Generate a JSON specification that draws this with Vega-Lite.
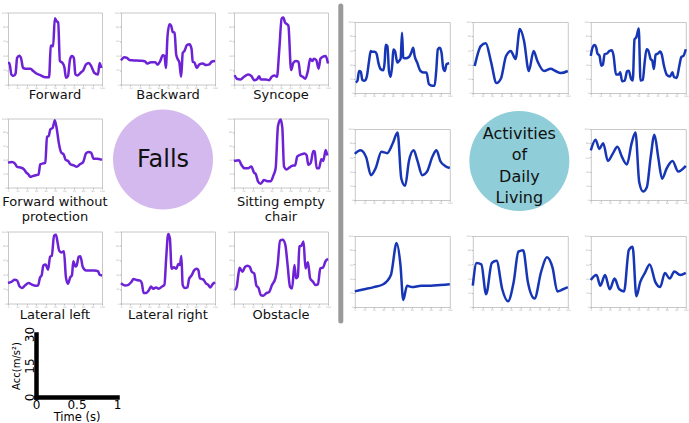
{
"$schema": "https://vega.github.io/schema/vega-lite/v6.json",
"padding": {"left": 0, "top": 0, "right": 0, "bottom": 0},
"datasets": {
"falls": [
{"p":"F1","t":0,"a":30},{"p":"F1","t":1.5,"a":30},{"p":"F1","t":3.6,"a":14},{"p":"F1","t":6,"a":12},{"p":"F1","t":8,"a":15},{"p":"F1","t":9.7,"a":37},{"p":"F1","t":12,"a":40},{"p":"F1","t":14,"a":36},{"p":"F1","t":16,"a":23},{"p":"F1","t":18.6,"a":22},{"p":"F1","t":24,"a":22},{"p":"F1","t":26.5,"a":19},{"p":"F1","t":29.4,"a":16},{"p":"F1","t":34.8,"a":12.6},{"p":"F1","t":40,"a":10},{"p":"F1","t":43.7,"a":10},{"p":"F1","t":45.5,"a":53.5},{"p":"F1","t":46.6,"a":54},{"p":"F1","t":48,"a":53},{"p":"F1","t":49.8,"a":92},{"p":"F1","t":51.6,"a":88},{"p":"F1","t":53.4,"a":86},{"p":"F1","t":55.2,"a":32.5},{"p":"F1","t":58,"a":30},{"p":"F1","t":60,"a":24},{"p":"F1","t":61.6,"a":9.3},{"p":"F1","t":63.8,"a":11.6},{"p":"F1","t":66,"a":35},{"p":"F1","t":68,"a":39.5},{"p":"F1","t":70,"a":37},{"p":"F1","t":71.7,"a":14},{"p":"F1","t":74,"a":12.6},{"p":"F1","t":77.8,"a":17},{"p":"F1","t":80,"a":19.5},{"p":"F1","t":83,"a":28},{"p":"F1","t":86,"a":30},{"p":"F1","t":88.5,"a":25.6},{"p":"F1","t":92,"a":16},{"p":"F1","t":95.7,"a":14},{"p":"F1","t":97.5,"a":30},{"p":"F1","t":99.3,"a":23},
{"p":"F2","t":0,"a":33.5},{"p":"F2","t":3.5,"a":38},{"p":"F2","t":6.4,"a":37},{"p":"F2","t":9,"a":34},{"p":"F2","t":13.4,"a":33.5},{"p":"F2","t":20.5,"a":33},{"p":"F2","t":25.8,"a":32},{"p":"F2","t":27.5,"a":29},{"p":"F2","t":32,"a":31},{"p":"F2","t":36.4,"a":31},{"p":"F2","t":38.9,"a":27.4},{"p":"F2","t":41.7,"a":32.6},{"p":"F2","t":44.5,"a":40.5},{"p":"F2","t":46.3,"a":39.5},{"p":"F2","t":47.7,"a":23},{"p":"F2","t":49.5,"a":67.4},{"p":"F2","t":51.6,"a":83.7},{"p":"F2","t":53.4,"a":81.4},{"p":"F2","t":55,"a":73},{"p":"F2","t":57,"a":72},{"p":"F2","t":58.7,"a":41.9},{"p":"F2","t":60.4,"a":35},{"p":"F2","t":62,"a":31},{"p":"F2","t":64,"a":10.7},{"p":"F2","t":65.7,"a":44},{"p":"F2","t":67.5,"a":46.5},{"p":"F2","t":70,"a":54.4},{"p":"F2","t":72.8,"a":55.8},{"p":"F2","t":75,"a":49.8},{"p":"F2","t":76.3,"a":32},{"p":"F2","t":78.4,"a":30},{"p":"F2","t":80.6,"a":23},{"p":"F2","t":83.4,"a":28},{"p":"F2","t":87,"a":29},{"p":"F2","t":90.5,"a":27},{"p":"F2","t":94,"a":28},{"p":"F2","t":96.5,"a":31.6},{"p":"F2","t":100,"a":32.6},
{"p":"F3","t":0.7,"a":13},{"p":"F3","t":2.9,"a":8},{"p":"F3","t":7,"a":7},{"p":"F3","t":10.7,"a":10.7},{"p":"F3","t":15,"a":14},{"p":"F3","t":18.6,"a":11.6},{"p":"F3","t":21.4,"a":6},{"p":"F3","t":24.3,"a":7},{"p":"F3","t":26.8,"a":11.6},{"p":"F3","t":28.6,"a":7},{"p":"F3","t":34,"a":7},{"p":"F3","t":37.5,"a":6},{"p":"F3","t":40,"a":10.7},{"p":"F3","t":42.9,"a":12.6},{"p":"F3","t":45.7,"a":10.7},{"p":"F3","t":48.2,"a":48.8},{"p":"F3","t":50.7,"a":91.6},{"p":"F3","t":52.5,"a":93},{"p":"F3","t":54.3,"a":86},{"p":"F3","t":56.4,"a":83.7},{"p":"F3","t":57.9,"a":81.4},{"p":"F3","t":60.7,"a":20},{"p":"F3","t":63.2,"a":30.2},{"p":"F3","t":66,"a":32.6},{"p":"F3","t":68.6,"a":31.6},{"p":"F3","t":70.7,"a":12.6},{"p":"F3","t":73.2,"a":10.7},{"p":"F3","t":75.7,"a":8},{"p":"F3","t":78.6,"a":18.6},{"p":"F3","t":81,"a":35.8},{"p":"F3","t":83.2,"a":32.6},{"p":"F3","t":85,"a":35.8},{"p":"F3","t":87.5,"a":34},{"p":"F3","t":90,"a":21.9},{"p":"F3","t":92,"a":35.8},{"p":"F3","t":94.6,"a":38.6},{"p":"F3","t":97.5,"a":39.5},{"p":"F3","t":100,"a":29.3},
{"p":"F4","t":0,"a":36},{"p":"F4","t":4.3,"a":37},{"p":"F4","t":7.2,"a":35},{"p":"F4","t":9.7,"a":30},{"p":"F4","t":13.4,"a":29},{"p":"F4","t":17,"a":26.4},{"p":"F4","t":19.5,"a":21.6},{"p":"F4","t":21.7,"a":19},{"p":"F4","t":23.8,"a":15.4},{"p":"F4","t":26.7,"a":16.8},{"p":"F4","t":29.6,"a":17.8},{"p":"F4","t":32.5,"a":18.8},{"p":"F4","t":34.3,"a":33.6},{"p":"F4","t":37.5,"a":35},{"p":"F4","t":39.7,"a":36},{"p":"F4","t":41.5,"a":73.6},{"p":"F4","t":43.3,"a":74.5},{"p":"F4","t":45,"a":84},{"p":"F4","t":47.6,"a":86.5},{"p":"F4","t":49.8,"a":97.6},{"p":"F4","t":52,"a":84},{"p":"F4","t":54,"a":65},{"p":"F4","t":56.7,"a":50.5},{"p":"F4","t":59.2,"a":48},{"p":"F4","t":61.4,"a":40},{"p":"F4","t":64,"a":38.5},{"p":"F4","t":66.4,"a":33.6},{"p":"F4","t":70,"a":32},{"p":"F4","t":73,"a":30},{"p":"F4","t":76.5,"a":33.6},{"p":"F4","t":80,"a":37},{"p":"F4","t":83,"a":49.5},{"p":"F4","t":85.6,"a":51.4},{"p":"F4","t":88.4,"a":50.5},{"p":"F4","t":91,"a":41.8},{"p":"F4","t":94.6,"a":41.8},{"p":"F4","t":100,"a":40},
{"p":"F6","t":0,"a":38.5},{"p":"F6","t":5.3,"a":39.6},{"p":"F6","t":7.8,"a":33},{"p":"F6","t":11.3,"a":27.8},{"p":"F6","t":14.9,"a":27.8},{"p":"F6","t":18.4,"a":30.5},{"p":"F6","t":21.3,"a":21.4},{"p":"F6","t":23,"a":19.8},{"p":"F6","t":25.5,"a":9},{"p":"F6","t":28.4,"a":5.3},{"p":"F6","t":31.9,"a":10.7},{"p":"F6","t":35.5,"a":9},{"p":"F6","t":39,"a":9},{"p":"F6","t":41.8,"a":17},{"p":"F6","t":44.3,"a":27.8},{"p":"F6","t":46.8,"a":89.3},{"p":"F6","t":49.6,"a":98.4},{"p":"F6","t":51.4,"a":86.6},{"p":"F6","t":53.2,"a":30.5},{"p":"F6","t":56,"a":26.2},{"p":"F6","t":58.9,"a":28.9},{"p":"F6","t":62,"a":31.5},{"p":"F6","t":64.9,"a":32},{"p":"F6","t":67.4,"a":45},{"p":"F6","t":71.6,"a":48},{"p":"F6","t":75.2,"a":49.2},{"p":"F6","t":77.3,"a":46.5},{"p":"F6","t":79,"a":33},{"p":"F6","t":81.6,"a":35.8},{"p":"F6","t":84.4,"a":53},{"p":"F6","t":85.8,"a":51.9},{"p":"F6","t":88,"a":27.8},{"p":"F6","t":90.4,"a":27.8},{"p":"F6","t":92.9,"a":41},{"p":"F6","t":95,"a":38.5},{"p":"F6","t":97.5,"a":54.5},{"p":"F6","t":99.3,"a":46.5},
{"p":"F7","t":0,"a":28.4},{"p":"F7","t":3.6,"a":30},{"p":"F7","t":7.2,"a":33},{"p":"F7","t":9.7,"a":32},{"p":"F7","t":12.2,"a":23.9},{"p":"F7","t":15,"a":21.6},{"p":"F7","t":18,"a":25},{"p":"F7","t":22,"a":28.4},{"p":"F7","t":25.8,"a":26},{"p":"F7","t":29.4,"a":24.8},{"p":"F7","t":32,"a":25},{"p":"F7","t":34,"a":35.8},{"p":"F7","t":35.8,"a":39},{"p":"F7","t":37.6,"a":52.8},{"p":"F7","t":40,"a":54},{"p":"F7","t":42.6,"a":47},{"p":"F7","t":44.8,"a":65},{"p":"F7","t":46.6,"a":66.5},{"p":"F7","t":49,"a":94},{"p":"F7","t":51,"a":95.4},{"p":"F7","t":52.7,"a":85},{"p":"F7","t":54.5,"a":73.4},{"p":"F7","t":57.3,"a":71},{"p":"F7","t":59.5,"a":72.5},{"p":"F7","t":61.6,"a":36.7},{"p":"F7","t":63.8,"a":27.5},{"p":"F7","t":66.3,"a":36.7},{"p":"F7","t":68,"a":39},{"p":"F7","t":69.5,"a":58.7},{"p":"F7","t":71.7,"a":51.4},{"p":"F7","t":73,"a":52.8},{"p":"F7","t":75.3,"a":65},{"p":"F7","t":77,"a":65.6},{"p":"F7","t":79.6,"a":50.5},{"p":"F7","t":83.2,"a":45.9},{"p":"F7","t":86.7,"a":45.9},{"p":"F7","t":92,"a":45.9},{"p":"F7","t":95.7,"a":45},{"p":"F7","t":97.5,"a":40},{"p":"F7","t":100,"a":39},
{"p":"F8","t":0,"a":28},{"p":"F8","t":4.3,"a":25},{"p":"F8","t":7.9,"a":26},{"p":"F8","t":10.8,"a":29.5},{"p":"F8","t":13.3,"a":34},{"p":"F8","t":16.8,"a":32.6},{"p":"F8","t":20.4,"a":31.7},{"p":"F8","t":22.2,"a":28},{"p":"F8","t":24,"a":14.7},{"p":"F8","t":26.9,"a":14.7},{"p":"F8","t":29.4,"a":17.9},{"p":"F8","t":32,"a":23.7},{"p":"F8","t":34,"a":20.5},{"p":"F8","t":37.3,"a":22.3},{"p":"F8","t":40,"a":20.5},{"p":"F8","t":43.7,"a":23.7},{"p":"F8","t":46.2,"a":25.9},{"p":"F8","t":48,"a":61.6},{"p":"F8","t":50.2,"a":96.4},{"p":"F8","t":52,"a":90.6},{"p":"F8","t":53.8,"a":48.2},{"p":"F8","t":56.3,"a":50.4},{"p":"F8","t":58.8,"a":48.2},{"p":"F8","t":61,"a":55},{"p":"F8","t":62.7,"a":53.6},{"p":"F8","t":64.2,"a":66},{"p":"F8","t":65.6,"a":25.9},{"p":"F8","t":68,"a":21.4},{"p":"F8","t":70.6,"a":22.3},{"p":"F8","t":72.4,"a":34},{"p":"F8","t":75.3,"a":39.3},{"p":"F8","t":77.8,"a":46},{"p":"F8","t":80.6,"a":48.2},{"p":"F8","t":82.4,"a":46},{"p":"F8","t":83.9,"a":34.8},{"p":"F8","t":87.5,"a":33.5},{"p":"F8","t":90.3,"a":28},{"p":"F8","t":92.8,"a":25.9},{"p":"F8","t":95,"a":22.3},{"p":"F8","t":97.5,"a":26.8},{"p":"F8","t":100,"a":29.5},
{"p":"F9","t":1,"a":18.6},{"p":"F9","t":2.9,"a":23.3},{"p":"F9","t":4.6,"a":39.5},{"p":"F9","t":6,"a":49.8},{"p":"F9","t":8.9,"a":44},{"p":"F9","t":11.8,"a":51},{"p":"F9","t":14.3,"a":52.6},{"p":"F9","t":16.8,"a":51},{"p":"F9","t":18.9,"a":44},{"p":"F9","t":21.4,"a":41.9},{"p":"F9","t":23.9,"a":24.7},{"p":"F9","t":26,"a":21.9},{"p":"F9","t":28.6,"a":11.6},{"p":"F9","t":31,"a":10.7},{"p":"F9","t":34,"a":14},{"p":"F9","t":37.5,"a":16.3},{"p":"F9","t":40.4,"a":25.6},{"p":"F9","t":44,"a":34.9},{"p":"F9","t":46.4,"a":53.5},{"p":"F9","t":49,"a":87},{"p":"F9","t":51.8,"a":88.4},{"p":"F9","t":54.6,"a":81.4},{"p":"F9","t":57,"a":53.5},{"p":"F9","t":59.6,"a":23.3},{"p":"F9","t":61.8,"a":21},{"p":"F9","t":64.3,"a":53.5},{"p":"F9","t":66,"a":34.9},{"p":"F9","t":67.9,"a":37.2},{"p":"F9","t":69.6,"a":79},{"p":"F9","t":71.8,"a":80.5},{"p":"F9","t":74,"a":86},{"p":"F9","t":76,"a":48.8},{"p":"F9","t":78.6,"a":57.2},{"p":"F9","t":81,"a":34.9},{"p":"F9","t":84,"a":30.2},{"p":"F9","t":86.8,"a":25.6},{"p":"F9","t":89.3,"a":26.5},{"p":"F9","t":91.8,"a":48.8},{"p":"F9","t":94.6,"a":49.8},{"p":"F9","t":97.5,"a":59},{"p":"F9","t":100,"a":61.9}
],
"adl": [
{"p":"A1","t":1,"a":14.9},{"p":"A1","t":2.8,"a":17.2},{"p":"A1","t":4.5,"a":31},{"p":"A1","t":6.3,"a":30},{"p":"A1","t":8,"a":18},{"p":"A1","t":10.5,"a":17.2},{"p":"A1","t":12.6,"a":22.8},{"p":"A1","t":15,"a":45},{"p":"A1","t":16.8,"a":59},{"p":"A1","t":18.5,"a":58},{"p":"A1","t":21,"a":58},{"p":"A1","t":23,"a":55},{"p":"A1","t":24.8,"a":42.8},{"p":"A1","t":27.3,"a":33.5},{"p":"A1","t":30,"a":32},{"p":"A1","t":31.5,"a":45},{"p":"A1","t":32.5,"a":68},{"p":"A1","t":34.3,"a":66},{"p":"A1","t":36,"a":31},{"p":"A1","t":37.8,"a":22.8},{"p":"A1","t":39.5,"a":40.5},{"p":"A1","t":40.6,"a":61.4},{"p":"A1","t":42.3,"a":59},{"p":"A1","t":44.8,"a":42.8},{"p":"A1","t":46.5,"a":45},{"p":"A1","t":48.3,"a":48.8},{"p":"A1","t":49.7,"a":84.7},{"p":"A1","t":51,"a":49.8},{"p":"A1","t":53.5,"a":48.8},{"p":"A1","t":57,"a":50.7},{"p":"A1","t":59.4,"a":56.7},{"p":"A1","t":61.5,"a":63.7},{"p":"A1","t":63,"a":52},{"p":"A1","t":65.7,"a":42.8},{"p":"A1","t":69.2,"a":31},{"p":"A1","t":72.7,"a":28.8},{"p":"A1","t":75.5,"a":28.8},{"p":"A1","t":78,"a":12.6},{"p":"A1","t":81.5,"a":10.2},{"p":"A1","t":84,"a":10.2},{"p":"A1","t":85.7,"a":31},{"p":"A1","t":87.4,"a":61.4},{"p":"A1","t":89.5,"a":63.7},{"p":"A1","t":91.3,"a":56.7},{"p":"A1","t":93,"a":35.8},{"p":"A1","t":94.8,"a":31},{"p":"A1","t":96.5,"a":40.5},{"p":"A1","t":99.3,"a":41.9},
{"p":"A2","t":2,"a":38},{"p":"A2","t":8.4,"a":66},{"p":"A2","t":13.7,"a":70},{"p":"A2","t":19,"a":45},{"p":"A2","t":25,"a":14},{"p":"A2","t":29.5,"a":20},{"p":"A2","t":35,"a":52},{"p":"A2","t":40,"a":59},{"p":"A2","t":45,"a":48},{"p":"A2","t":49.5,"a":90},{"p":"A2","t":54,"a":73},{"p":"A2","t":59,"a":31},{"p":"A2","t":64,"a":59},{"p":"A2","t":68,"a":45},{"p":"A2","t":75,"a":31},{"p":"A2","t":82,"a":34},{"p":"A2","t":87,"a":31},{"p":"A2","t":92.6,"a":28},{"p":"A2","t":100,"a":31},
{"p":"A3","t":0,"a":52.3},{"p":"A3","t":1.8,"a":63.9},{"p":"A3","t":3.9,"a":67.6},{"p":"A3","t":5.7,"a":63.9},{"p":"A3","t":7,"a":55.6},{"p":"A3","t":9.2,"a":52.3},{"p":"A3","t":11,"a":38.4},{"p":"A3","t":12.7,"a":39.8},{"p":"A3","t":14.5,"a":54.6},{"p":"A3","t":17,"a":55.6},{"p":"A3","t":19.8,"a":59.3},{"p":"A3","t":22.3,"a":60.2},{"p":"A3","t":24,"a":52.3},{"p":"A3","t":26.5,"a":25.9},{"p":"A3","t":29.3,"a":25.9},{"p":"A3","t":31,"a":29.2},{"p":"A3","t":32.9,"a":16.7},{"p":"A3","t":35.7,"a":17.6},{"p":"A3","t":38.2,"a":30.6},{"p":"A3","t":40,"a":31.5},{"p":"A3","t":42.4,"a":19.9},{"p":"A3","t":44.2,"a":17.6},{"p":"A3","t":46,"a":75.5},{"p":"A3","t":48,"a":78.7},{"p":"A3","t":50.5,"a":90.7},{"p":"A3","t":52.3,"a":17.6},{"p":"A3","t":54.8,"a":18.5},{"p":"A3","t":56.5,"a":40.7},{"p":"A3","t":58.7,"a":61.6},{"p":"A3","t":60.4,"a":60.2},{"p":"A3","t":63,"a":47.7},{"p":"A3","t":64.7,"a":45.4},{"p":"A3","t":66.4,"a":33.8},{"p":"A3","t":68.2,"a":53.7},{"p":"A3","t":70.7,"a":55.6},{"p":"A3","t":72.8,"a":58.3},{"p":"A3","t":74.6,"a":54.6},{"p":"A3","t":77,"a":38.4},{"p":"A3","t":79.9,"a":25.9},{"p":"A3","t":83.4,"a":23.1},{"p":"A3","t":85.9,"a":29.2},{"p":"A3","t":87.6,"a":22.2},{"p":"A3","t":90.5,"a":21.3},{"p":"A3","t":93,"a":37},{"p":"A3","t":95.4,"a":50.9},{"p":"A3","t":97.5,"a":52.3},{"p":"A3","t":100,"a":61.6},
{"p":"A4","t":0,"a":65},{"p":"A4","t":6,"a":70},{"p":"A4","t":12,"a":60},{"p":"A4","t":17,"a":35},{"p":"A4","t":22,"a":45},{"p":"A4","t":28,"a":68},{"p":"A4","t":34,"a":66},{"p":"A4","t":40,"a":80},{"p":"A4","t":45,"a":95},{"p":"A4","t":49,"a":30},{"p":"A4","t":53,"a":20},{"p":"A4","t":57,"a":55},{"p":"A4","t":62,"a":70},{"p":"A4","t":66,"a":55},{"p":"A4","t":71,"a":35},{"p":"A4","t":76,"a":40},{"p":"A4","t":82,"a":62},{"p":"A4","t":86,"a":70},{"p":"A4","t":90,"a":55},{"p":"A4","t":95,"a":48},{"p":"A4","t":100,"a":45},
{"p":"A6","t":0,"a":70},{"p":"A6","t":5,"a":85},{"p":"A6","t":9,"a":72},{"p":"A6","t":13,"a":80},{"p":"A6","t":18,"a":55},{"p":"A6","t":23,"a":65},{"p":"A6","t":28,"a":75},{"p":"A6","t":33,"a":60},{"p":"A6","t":38,"a":50},{"p":"A6","t":43,"a":80},{"p":"A6","t":47,"a":95},{"p":"A6","t":51,"a":25},{"p":"A6","t":55,"a":12},{"p":"A6","t":59,"a":18},{"p":"A6","t":63,"a":60},{"p":"A6","t":67,"a":92},{"p":"A6","t":71,"a":60},{"p":"A6","t":75,"a":30},{"p":"A6","t":80,"a":45},{"p":"A6","t":86,"a":55},{"p":"A6","t":92,"a":40},{"p":"A6","t":100,"a":48},
{"p":"A7","t":0,"a":22},{"p":"A7","t":10,"a":25},{"p":"A7","t":20,"a":28},{"p":"A7","t":30,"a":32},{"p":"A7","t":38,"a":45},{"p":"A7","t":44,"a":90},{"p":"A7","t":48,"a":60},{"p":"A7","t":51,"a":10},{"p":"A7","t":55,"a":30},{"p":"A7","t":60,"a":28},{"p":"A7","t":70,"a":30},{"p":"A7","t":80,"a":30},{"p":"A7","t":90,"a":31},{"p":"A7","t":100,"a":32},
{"p":"A8","t":0,"a":30},{"p":"A8","t":4,"a":62},{"p":"A8","t":9,"a":60},{"p":"A8","t":14,"a":18},{"p":"A8","t":20,"a":62},{"p":"A8","t":25,"a":65},{"p":"A8","t":31,"a":25},{"p":"A8","t":37,"a":8},{"p":"A8","t":43,"a":35},{"p":"A8","t":48,"a":78},{"p":"A8","t":53,"a":80},{"p":"A8","t":58,"a":35},{"p":"A8","t":65,"a":12},{"p":"A8","t":72,"a":50},{"p":"A8","t":78,"a":70},{"p":"A8","t":84,"a":55},{"p":"A8","t":89,"a":22},{"p":"A8","t":95,"a":25},{"p":"A8","t":100,"a":28},
{"p":"A9","t":0,"a":38},{"p":"A9","t":6,"a":45},{"p":"A9","t":10,"a":30},{"p":"A9","t":15,"a":45},{"p":"A9","t":20,"a":25},{"p":"A9","t":25,"a":40},{"p":"A9","t":30,"a":25},{"p":"A9","t":35,"a":22},{"p":"A9","t":40,"a":80},{"p":"A9","t":44,"a":85},{"p":"A9","t":48,"a":15},{"p":"A9","t":52,"a":35},{"p":"A9","t":57,"a":48},{"p":"A9","t":62,"a":60},{"p":"A9","t":68,"a":35},{"p":"A9","t":73,"a":28},{"p":"A9","t":78,"a":48},{"p":"A9","t":83,"a":40},{"p":"A9","t":88,"a":50},{"p":"A9","t":94,"a":45},{"p":"A9","t":100,"a":48}
]
},
"hconcat": [
{"vconcat": [
 {"width": 1, "height": 6.55, "view": {"stroke": null}, "data": {"values": [{}]}, "mark": {"type": "point", "opacity": 0, "size": 0}},
 {"concat": [
  {"width": 94, "height": 72, "data": {"name": "falls"}, "transform": [{"filter": "datum.p == 'F1'"}], "title": {"text": "Forward", "offset": 0}, "mark": {"type": "line", "color": "#6d22d6", "strokeWidth": 2.5, "interpolate": "monotone"}, "encoding": {"x": {"field": "t", "type": "quantitative", "title": null, "scale": {"domain": [0, 100], "nice": false}}, "y": {"field": "a", "type": "quantitative", "title": null, "scale": {"domain": [0, 100], "nice": false}}}},
  {"width": 94, "height": 72, "data": {"name": "falls"}, "transform": [{"filter": "datum.p == 'F2'"}], "title": {"text": "Backward", "offset": 0}, "mark": {"type": "line", "color": "#6d22d6", "strokeWidth": 2.5, "interpolate": "monotone"}, "encoding": {"x": {"field": "t", "type": "quantitative", "title": null, "scale": {"domain": [0, 100], "nice": false}}, "y": {"field": "a", "type": "quantitative", "title": null, "scale": {"domain": [0, 100], "nice": false}}}},
  {"width": 94, "height": 72, "data": {"name": "falls"}, "transform": [{"filter": "datum.p == 'F3'"}], "title": {"text": "Syncope", "offset": 0}, "mark": {"type": "line", "color": "#6d22d6", "strokeWidth": 2.5, "interpolate": "monotone"}, "encoding": {"x": {"field": "t", "type": "quantitative", "title": null, "scale": {"domain": [0, 100], "nice": false}}, "y": {"field": "a", "type": "quantitative", "title": null, "scale": {"domain": [0, 100], "nice": false}}}},
  {"width": 94, "height": 69, "data": {"name": "falls"}, "transform": [{"filter": "datum.p == 'F4'"}], "title": {"text": ["Forward without", "protection"], "offset": 4}, "mark": {"type": "line", "color": "#6d22d6", "strokeWidth": 2.5, "interpolate": "monotone"}, "encoding": {"x": {"field": "t", "type": "quantitative", "title": null, "scale": {"domain": [0, 100], "nice": false}}, "y": {"field": "a", "type": "quantitative", "title": null, "scale": {"domain": [0, 100], "nice": false}}}},
  {"width": 94, "height": 79, "view": {"stroke": null}, "data": {"values": [{"x": 44.7, "y": 48, "label": "Falls"}]},
   "encoding": {"x": {"field": "x", "type": "quantitative", "scale": {"domain": [0, 100]}, "axis": null}, "y": {"field": "y", "type": "quantitative", "scale": {"domain": [0, 100]}, "axis": null}},
   "layer": [
    {"mark": {"type": "point", "shape": "circle", "filled": true, "size": 10000, "color": "#d4b9ee", "opacity": 1}},
    {"mark": {"type": "text", "fontSize": 24, "color": "#111"}, "encoding": {"text": {"field": "label"}}}
   ]},
  {"width": 94, "height": 69, "data": {"name": "falls"}, "transform": [{"filter": "datum.p == 'F6'"}], "title": {"text": ["Sitting empty", "chair"], "offset": 4}, "mark": {"type": "line", "color": "#6d22d6", "strokeWidth": 2.5, "interpolate": "monotone"}, "encoding": {"x": {"field": "t", "type": "quantitative", "title": null, "scale": {"domain": [0, 100], "nice": false}}, "y": {"field": "a", "type": "quantitative", "title": null, "scale": {"domain": [0, 100], "nice": false}}}},
  {"width": 94, "height": 72, "data": {"name": "falls"}, "transform": [{"filter": "datum.p == 'F7'"}], "title": {"text": "Lateral left", "offset": 1}, "mark": {"type": "line", "color": "#6d22d6", "strokeWidth": 2.5, "interpolate": "monotone"}, "encoding": {"x": {"field": "t", "type": "quantitative", "title": null, "scale": {"domain": [0, 100], "nice": false}}, "y": {"field": "a", "type": "quantitative", "title": null, "scale": {"domain": [0, 100], "nice": false}}}},
  {"width": 94, "height": 72, "data": {"name": "falls"}, "transform": [{"filter": "datum.p == 'F8'"}], "title": {"text": "Lateral right", "offset": 1}, "mark": {"type": "line", "color": "#6d22d6", "strokeWidth": 2.5, "interpolate": "monotone"}, "encoding": {"x": {"field": "t", "type": "quantitative", "title": null, "scale": {"domain": [0, 100], "nice": false}}, "y": {"field": "a", "type": "quantitative", "title": null, "scale": {"domain": [0, 100], "nice": false}}}},
  {"width": 94, "height": 72, "data": {"name": "falls"}, "transform": [{"filter": "datum.p == 'F9'"}], "title": {"text": "Obstacle", "offset": 1}, "mark": {"type": "line", "color": "#6d22d6", "strokeWidth": 2.5, "interpolate": "monotone"}, "encoding": {"x": {"field": "t", "type": "quantitative", "title": null, "scale": {"domain": [0, 100], "nice": false}}, "y": {"field": "a", "type": "quantitative", "title": null, "scale": {"domain": [0, 100], "nice": false}}}}
 ], "columns": 3, "spacing": {"row": 34, "column": 19}, "bounds": "flush"},
 {"hconcat": [
  {"width": 28, "height": 1, "view": {"stroke": null}, "data": {"values": [{}]}, "mark": {"type": "point", "opacity": 0, "size": 0}},
  {"width": 81, "height": 63, "view": {"stroke": null}, "data": {"values": [{"t": 0, "a": 0}, {"t": 1, "a": 30}]}, "mark": {"type": "point", "opacity": 0},
   "encoding": {
    "x": {"field": "t", "type": "quantitative", "scale": {"domain": [0, 1], "nice": false}, "axis": {"title": "Time (s)", "values": [0, 0.5, 1], "format": "~g", "domain": true, "domainColor": "#000", "domainWidth": 4.5, "domainCap": "square", "ticks": false, "labelFontSize": 12, "labelColor": "#000", "labelPadding": 2, "labelFlush": false, "titleFontSize": 11.5, "titleFontWeight": "normal", "titleColor": "#000", "titlePadding": 1}},
    "y": {"field": "a", "type": "quantitative", "scale": {"domain": [0, 30], "nice": false}, "axis": {"title": "Acc(m/s²)", "values": [0, 15, 30], "format": "~g", "domain": true, "domainColor": "#000", "domainWidth": 4.5, "domainCap": "square", "ticks": false, "labelFontSize": 12, "labelColor": "#000", "labelAngle": -90, "labelAlign": "center", "labelBaseline": "bottom", "labelPadding": 0, "labelFlush": false, "titleFontSize": 10, "titleFontWeight": "normal", "titleColor": "#000", "titlePadding": 2}}
   }}
 ], "spacing": 0, "bounds": "flush"}
], "spacing": 3.5},
{"hconcat": [
 {"vconcat": [
  {"width": 1, "height": 3, "view": {"stroke": null}, "data": {"values": [{}]}, "mark": {"type": "point", "opacity": 0, "size": 0}},
  {"width": 5, "height": 315, "view": {"stroke": null}, "data": {"values": [{"x": 0, "y": 0, "y2": 1}]}, "mark": {"type": "rule", "color": "#9a9a9a", "strokeWidth": 5, "strokeCap": "round"},
   "encoding": {"x": {"field": "x", "type": "quantitative", "scale": {"domain": [-1, 1]}, "axis": null}, "y": {"field": "y", "type": "quantitative", "scale": {"domain": [0, 1]}, "axis": null}, "y2": {"field": "y2"}}}
 ], "spacing": 0},
 {"vconcat": [
  {"width": 1, "height": 19.3, "view": {"stroke": null}, "data": {"values": [{}]}, "mark": {"type": "point", "opacity": 0, "size": 0}},
  {"concat": [
   {"width": 95, "height": 71, "data": {"name": "adl"}, "transform": [{"filter": "datum.p == 'A1'"}], "mark": {"type": "line", "color": "#1736b5", "strokeWidth": 2.5, "interpolate": "monotone"}, "encoding": {"x": {"field": "t", "type": "quantitative", "title": null, "scale": {"domain": [0, 100], "nice": false}}, "y": {"field": "a", "type": "quantitative", "title": null, "scale": {"domain": [0, 100], "nice": false}}}},
   {"width": 95, "height": 71, "data": {"name": "adl"}, "transform": [{"filter": "datum.p == 'A2'"}], "mark": {"type": "line", "color": "#1736b5", "strokeWidth": 2.5, "interpolate": "monotone"}, "encoding": {"x": {"field": "t", "type": "quantitative", "title": null, "scale": {"domain": [0, 100], "nice": false}}, "y": {"field": "a", "type": "quantitative", "title": null, "scale": {"domain": [0, 100], "nice": false}}}},
   {"width": 95, "height": 71, "data": {"name": "adl"}, "transform": [{"filter": "datum.p == 'A3'"}], "mark": {"type": "line", "color": "#1736b5", "strokeWidth": 2.5, "interpolate": "monotone"}, "encoding": {"x": {"field": "t", "type": "quantitative", "title": null, "scale": {"domain": [0, 100], "nice": false}}, "y": {"field": "a", "type": "quantitative", "title": null, "scale": {"domain": [0, 100], "nice": false}}}},
   {"width": 95, "height": 71, "data": {"name": "adl"}, "transform": [{"filter": "datum.p == 'A4'"}], "mark": {"type": "line", "color": "#1736b5", "strokeWidth": 2.5, "interpolate": "monotone"}, "encoding": {"x": {"field": "t", "type": "quantitative", "title": null, "scale": {"domain": [0, 100], "nice": false}}, "y": {"field": "a", "type": "quantitative", "title": null, "scale": {"domain": [0, 100], "nice": false}}}},
   {"width": 95, "height": 71, "view": {"stroke": null}, "data": {"values": [{"x": 49, "y": 55}]},
    "encoding": {"x": {"field": "x", "type": "quantitative", "scale": {"domain": [0, 100]}, "axis": null}, "y": {"field": "y", "type": "quantitative", "scale": {"domain": [0, 100]}, "axis": null}},
    "layer": [
     {"mark": {"type": "point", "shape": "circle", "filled": true, "size": 10000, "color": "#8fcdd8", "opacity": 1}},
     {"mark": {"type": "text", "fontSize": 16, "color": "#111", "lineHeight": 21.3, "baseline": "middle", "dy": -27, "text": ["Activities", "of", "Daily", "Living"]}}
    ]},
   {"width": 95, "height": 71, "data": {"name": "adl"}, "transform": [{"filter": "datum.p == 'A6'"}], "mark": {"type": "line", "color": "#1736b5", "strokeWidth": 2.5, "interpolate": "monotone"}, "encoding": {"x": {"field": "t", "type": "quantitative", "title": null, "scale": {"domain": [0, 100], "nice": false}}, "y": {"field": "a", "type": "quantitative", "title": null, "scale": {"domain": [0, 100], "nice": false}}}},
   {"width": 95, "height": 71, "data": {"name": "adl"}, "transform": [{"filter": "datum.p == 'A7'"}], "mark": {"type": "line", "color": "#1736b5", "strokeWidth": 2.5, "interpolate": "monotone"}, "encoding": {"x": {"field": "t", "type": "quantitative", "title": null, "scale": {"domain": [0, 100], "nice": false}}, "y": {"field": "a", "type": "quantitative", "title": null, "scale": {"domain": [0, 100], "nice": false}}}},
   {"width": 95, "height": 71, "data": {"name": "adl"}, "transform": [{"filter": "datum.p == 'A8'"}], "mark": {"type": "line", "color": "#1736b5", "strokeWidth": 2.5, "interpolate": "monotone"}, "encoding": {"x": {"field": "t", "type": "quantitative", "title": null, "scale": {"domain": [0, 100], "nice": false}}, "y": {"field": "a", "type": "quantitative", "title": null, "scale": {"domain": [0, 100], "nice": false}}}},
   {"width": 95, "height": 71, "data": {"name": "adl"}, "transform": [{"filter": "datum.p == 'A9'"}], "mark": {"type": "line", "color": "#1736b5", "strokeWidth": 2.5, "interpolate": "monotone"}, "encoding": {"x": {"field": "t", "type": "quantitative", "title": null, "scale": {"domain": [0, 100], "nice": false}}, "y": {"field": "a", "type": "quantitative", "title": null, "scale": {"domain": [0, 100], "nice": false}}}}
  ], "columns": 3, "spacing": {"row": 36, "column": 23}, "bounds": "flush"}
 ], "spacing": 0}
], "spacing": 3.5}
],
"spacing": 4.3,
"config": {
 "font": "DejaVu Sans",
 "view": {"stroke": "#c8c8c8", "strokeWidth": 1},
 "axis": {"domain": false, "grid": false, "ticks": true, "tickSize": 1.5, "tickColor": "#bbb", "labelFontSize": 2.5, "labelColor": "#aaa", "labelPadding": 0.5, "labelFlush": false, "labelOverlap": false},
 "axisX": {"tickCount": 10},
 "axisY": {"tickCount": 5},
 "title": {"orient": "bottom", "fontSize": 13, "fontWeight": "normal", "color": "#111", "offset": 0, "lineHeight": 15}
}
}
